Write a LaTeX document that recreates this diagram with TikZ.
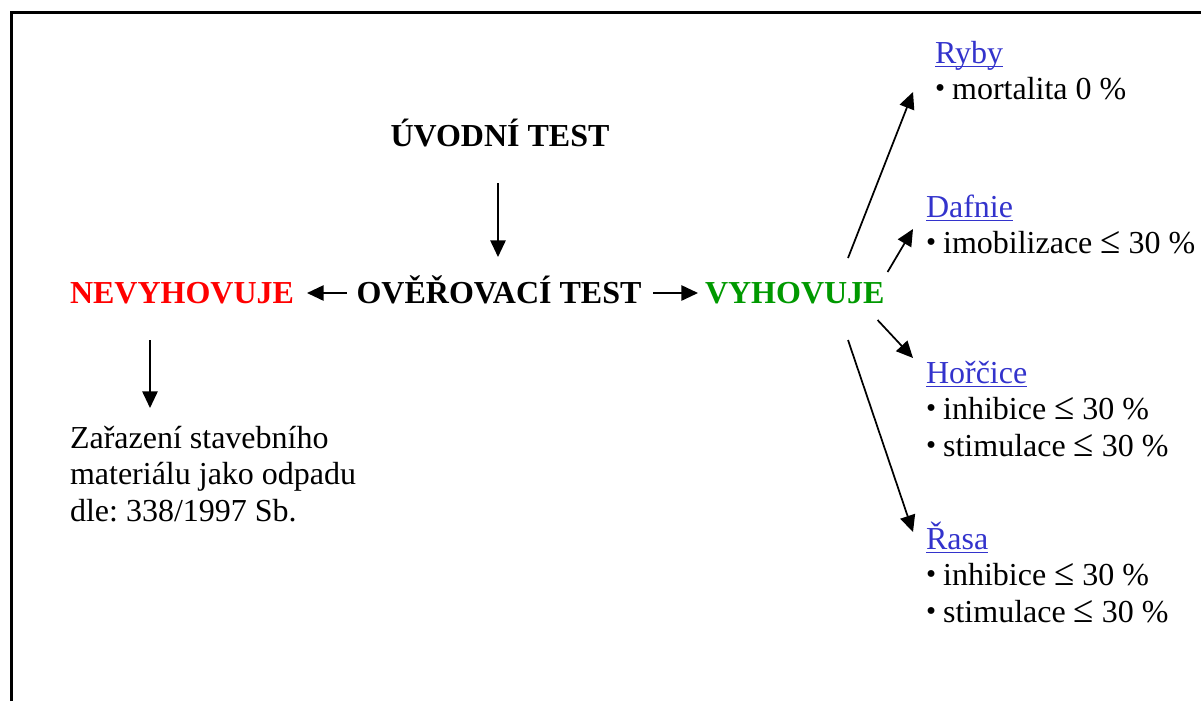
\documentclass[tikz,border=0pt]{standalone}
\usepackage{fontspec}
\setmainfont{Liberation Serif}
\usetikzlibrary{arrows.meta,calc}
\definecolor{linkblue}{RGB}{51,51,204}
\definecolor{failred}{RGB}{255,0,0}
\definecolor{passgreen}{RGB}{0,153,0}
\frenchspacing
% underlined link-style label with a rule just below the baseline
\newcommand\linkname[1]{\textcolor{linkblue}{\setbox0\hbox{#1}\rlap{\rule[-3pt]{\wd0}{1.1pt}}\box0}}
\newcommand\lines[1]{\begin{tabular}[t]{@{}l@{}}#1\end{tabular}}
% small raised bullet and a taller less-or-equal sign
\newcommand\bul{\raisebox{0.06em}{\scalebox{0.9}{•}}\hspace{0.22em}}
\newcommand\leqs{\scalebox{1.15}[1.2]{≤}}
\begin{document}
\begin{tikzpicture}[x=0.75pt,y=-0.75pt,
  every node/.style={inner sep=0pt,outer sep=0pt,font=\fontsize{24}{27.4}\selectfont},
  head/.style={font=\fontsize{24}{27.4}\selectfont\bfseries},
  arr/.style={-{Triangle[length=12.5pt,width=11.5pt]},line width=1.3pt},
  frame/.style={line width=1.6pt}]
\useasboundingbox (0,0) rectangle (1201,701);
% open frame: only top and left edges are inside the page
\draw[frame] (11.5,701) -- (11.5,12.5) -- (1201,12.5);

% main flow
\node[head,anchor=base] (uvod) at (500,146) {ÚVODNÍ TEST};
\node[head,anchor=base] (over) at (499,303) {OVĚŘOVACÍ TEST};
\node[head,anchor=base west,text=failred] (nev) at (70,303) {NEVYHOVUJE};
\node[head,anchor=base west,text=passgreen] (vyh) at (705,303) {VYHOVUJE};
\node[anchor=base west] (zar) at (70,448)
  {\lines{Zařazení stavebního\\ materiálu jako odpadu\\ dle: 338/1997 Sb.}};

% test organisms
\node[anchor=base west] (ryby) at (935,63)
  {\lines{\linkname{Ryby}\\ \bul mortalita 0 \%}};
\node[anchor=base west] (daf) at (926,217)
  {\lines{\linkname{Dafnie}\\ \bul imobilizace \leqs{} 30 \%}};
\node[anchor=base west] (hor) at (926,383)
  {\lines{\linkname{Hořčice}\\ \bul inhibice \leqs{} 30 \%\\ \bul stimulace \leqs{} 30 \%}};
\node[anchor=base west] (rasa) at (926,549)
  {\lines{\linkname{Řasa}\\ \bul inhibice \leqs{} 30 \%\\ \bul stimulace \leqs{} 30 \%}};

% connectors
\draw[arr] ($(uvod.base)+(-2,37)$) -- ($(over.base)+(-1,-46)$);
\draw[arr] ($(over.base west)+(-10,-10)$) -- ($(nev.base east)+(13,-10)$);
\draw[arr] ($(over.base east)+(12,-10)$) -- ($(vyh.base west)+(-7,-10)$);
\draw[arr] ($(nev.base west)+(80,37)$) -- ($(zar.base west)+(80,-40)$);
\draw[arr] ($(vyh.base west)+(143,-45)$) -- ($(ryby.base west)+(-22,29)$);
\draw[arr] ($(vyh.base east)+(3,-31)$) -- ($(daf.base west)+(-13,12)$);
\draw[arr] ($(vyh.base east)+(-7,17)$) -- ($(hor.base west)+(-13,-25)$);
\draw[arr] ($(vyh.base west)+(143,37)$) -- ($(rasa.base west)+(-13,-17)$);
\end{tikzpicture}
\end{document}
